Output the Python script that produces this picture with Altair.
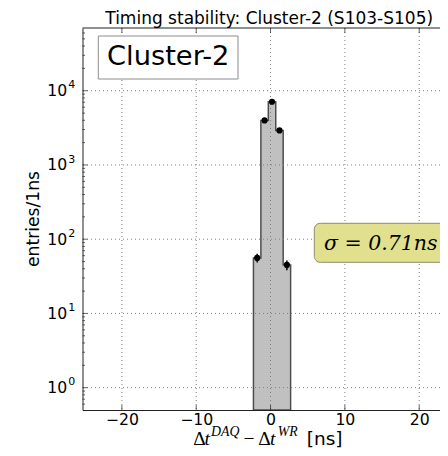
import altair as alt
import pandas as pd

# ---------------- data ----------------
bin_left = [-2.3, -1.3, -0.3, 0.7, 1.7]
bin_width = 1.0
counts = [56, 3980, 7100, 2920, 45]

x_tick_values = [-20, -10, 0, 10, 20]
y_major_values = [1, 10, 100, 1000, 10000]
y_exponents = ["0", "1", "2", "3", "4"]
y_minor_mult = [2, 3, 4, 5, 6, 7, 8, 9]
y_minor_decades = [-1, 0, 1, 2, 3, 4]

title_text = "Timing stability: Cluster-2 (S103-S105)"
box_label = "Cluster-2"
sigma_label = "σ = 0.71ns"
y_title = "entries/1ns"

# the reference is cut off on the right; the page can show up to about x = 22.8
x_domain = [-25.3, 22.8]
y_domain = [0.5, 70000]
W, H = 357.5, 382

# ---------------- tables built from the arrays ----------------
edges = bin_left + [bin_left[-1] + bin_width]
hist_df = pd.DataFrame({"x": edges, "y": counts + [counts[-1]],
                        "base": [y_domain[0]] * len(edges)})
pts_df = pd.DataFrame({"x": [b + bin_width / 2 for b in bin_left], "y": counts})
pts_df["lo"] = pts_df["y"] - pts_df["y"] ** 0.5
pts_df["hi"] = pts_df["y"] + pts_df["y"] ** 0.5
minor_vals = [m * 10.0 ** k for k in y_minor_decades for m in y_minor_mult]
minor_vals = [v for v in minor_vals if y_domain[0] < v < y_domain[1]]
ymaj_df = pd.DataFrame({"v": y_major_values, "e": y_exponents})
ymin_df = pd.DataFrame({"v": minor_vals})
xt_df = pd.DataFrame({"v": x_tick_values})

xs = alt.Scale(domain=x_domain, nice=False, zero=False)
ys = alt.Scale(type="log", domain=y_domain, nice=False)

FONT = "DejaVu Sans"
TICKC = "#222222"
GRIDC = "#808080"

x_axis = alt.Axis(values=x_tick_values, title="", ticks=False, grid=False,
                  domain=True, domainColor=TICKC, domainWidth=1,
                  labelFont=FONT, labelFontSize=15.7, labelColor="black",
                  labelPadding=2.5, labelFlush=False, zindex=1)
y_axis = alt.Axis(values=y_major_values, labelExpr="'10'", title="", ticks=False,
                  grid=False, domain=True, domainColor=TICKC, domainWidth=1,
                  labelFont=FONT, labelFontSize=15.7, labelColor="black",
                  labelPadding=15.8, labelBaseline="middle", labelFlush=False,
                  labelOverlap=False, zindex=1)


def X(field):
    return alt.X(field, scale=xs, axis=x_axis)


def Y(field):
    return alt.Y(field, scale=ys, axis=y_axis)


area = alt.Chart(hist_df).mark_area(
    interpolate="step-after", orient="vertical", fill="#c0c0c0",
    stroke="#4d4d4d", strokeWidth=1.5, clip=True
).encode(x=X("x:Q"), y=Y("y:Q"), y2="base:Q")

grid_x = alt.Chart(xt_df).mark_rule(color=GRIDC, strokeDash=[1, 3], strokeWidth=1).encode(
    x=X("v:Q"))
grid_y = alt.Chart(ymaj_df).mark_rule(color=GRIDC, strokeDash=[1, 3], strokeWidth=1).encode(
    y=Y("v:Q"))

err = alt.Chart(pts_df).mark_rule(color="black", strokeWidth=1.5).encode(
    x=X("x:Q"), y=Y("lo:Q"), y2="hi:Q")
pts = alt.Chart(pts_df).mark_circle(size=38, color="black", opacity=1).encode(
    x=X("x:Q"), y=Y("y:Q"))

tick_y_major = alt.Chart(ymaj_df).mark_tick(orient="horizontal", size=5, thickness=1, color=TICKC).encode(
    y=Y("v:Q"), x=alt.value(2.5))
tick_y_minor = alt.Chart(ymin_df).mark_tick(orient="horizontal", size=2.5, thickness=1, color=TICKC).encode(
    y=Y("v:Q"), x=alt.value(1.25))
tick_x_bot = alt.Chart(xt_df).mark_tick(orient="vertical", size=5, thickness=1, color=TICKC).encode(
    x=X("v:Q"), y=alt.value(H - 2.5))
tick_x_top = alt.Chart(xt_df).mark_tick(orient="vertical", size=5, thickness=1, color=TICKC).encode(
    x=X("v:Q"), y=alt.value(2.5))

exps = alt.Chart(ymaj_df).mark_text(align="left", baseline="alphabetic", font=FONT,
                                    fontSize=11, dy=-2.3, color="black").encode(
    y=Y("v:Q"), x=alt.value(-14.2), text="e:N")


def txt(s, x, y, **kw):
    return alt.Chart(pd.DataFrame({"t": [s]})).mark_text(**kw).encode(
        x=alt.value(x), y=alt.value(y), text="t:N")


def box(x1, x2, y1, y2, **kw):
    return alt.Chart(pd.DataFrame({"a": [0]})).mark_rect(**kw).encode(
        x=alt.value(x1), x2=alt.value(x2), y=alt.value(y1), y2=alt.value(y2))


top_border = alt.Chart(pd.DataFrame({"a": [0]})).mark_rule(color=TICKC, strokeWidth=1).encode(
    x=alt.value(0), x2=alt.value(W), y=alt.value(0))

title = txt(title_text, 186.7, -4.3, align="center", baseline="alphabetic",
            font=FONT, fontSize=17, color="black")
ytitle = txt(y_title, -48.7, H / 2, align="center", baseline="middle", angle=270,
             font=FONT, fontSize=17.2, color="black")

SERIF = "Liberation Serif"
BL, SUP = 416.5, 408.0
xt_parts = [
    txt("Δ", 110.8, BL, align="left", baseline="alphabetic", font=SERIF, fontSize=19.5, color="black"),
    txt("t", 122.0, BL, align="left", baseline="alphabetic", font=SERIF, fontSize=19.5, fontStyle="italic", color="black"),
    txt("DAQ", 128.5, SUP, align="left", baseline="alphabetic", font=SERIF, fontSize=13.8, fontStyle="italic", color="black"),
    txt("−", 166.5, BL, align="center", baseline="alphabetic", font=SERIF, fontSize=19.5, color="black"),
    txt("Δ", 175.8, BL, align="left", baseline="alphabetic", font=SERIF, fontSize=19.5, color="black"),
    txt("t", 187.5, BL, align="left", baseline="alphabetic", font=SERIF, fontSize=19.5, fontStyle="italic", color="black"),
    txt("WR", 195.2, SUP, align="left", baseline="alphabetic", font=SERIF, fontSize=13.8, fontStyle="italic", color="black"),
    txt("[ns]", 224.2, BL, align="left", baseline="alphabetic", font=FONT, fontSize=18.5, color="black"),
]

cl_box = box(15.8, 155.5, 8, 51, fill="white", stroke="#8c8c8c", strokeWidth=1)
cl_txt = txt(box_label, 24.5, 37, align="left", baseline="alphabetic", font=FONT,
             fontSize=27.3, color="black")

sg_box = box(231.8, 364.8, 195.3, 234.3, fill="#e0e08e", stroke="#8c8c70",
             strokeWidth=1, cornerRadius=6, clip=True)
sg_txt = txt(sigma_label, 298.3, 222, align="center", baseline="alphabetic",
             font="DejaVu Serif", fontStyle="italic", fontSize=20.5, color="black")

chart = alt.layer(
    area, grid_x, grid_y, err, pts,
    tick_y_major, tick_y_minor, tick_x_bot, tick_x_top, top_border,
    exps, title, ytitle, *xt_parts,
    cl_box, cl_txt, sg_box, sg_txt,
).properties(
    width=W, height=H,
    padding={"left": 74.5, "top": 20, "right": 0, "bottom": 38},
    autosize=alt.AutoSizeParams(type="none"),
).configure_view(strokeWidth=0)

chart.save("out.html", embed_options={"renderer": "svg", "actions": False})
